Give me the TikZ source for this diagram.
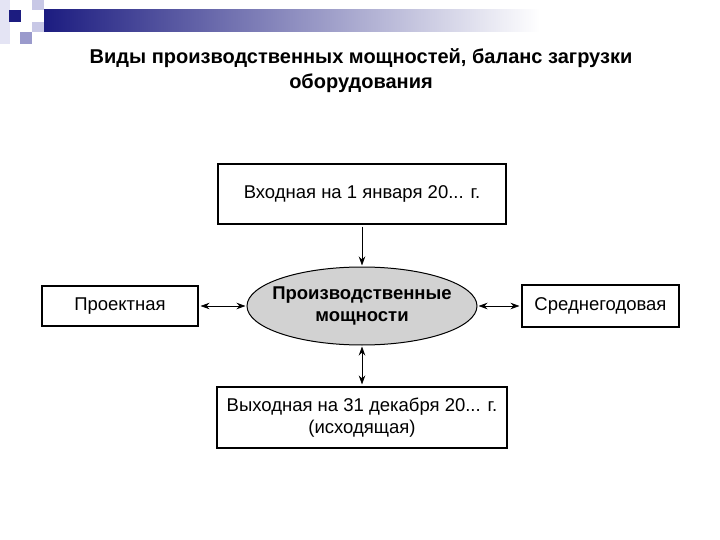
\documentclass[tikz,border=0pt]{standalone}
\usepackage{fontspec}
\setmainfont{Liberation Sans}
\usetikzlibrary{shapes.geometric, arrows.meta}

\definecolor{navy}{HTML}{1C1C80}
\definecolor{pale}{HTML}{E4E4F4}
\definecolor{lilac}{HTML}{C8C8E6}
\definecolor{slate}{HTML}{9A9ACC}

\begin{document}
\begin{tikzpicture}[x = 1pt, y = -1pt, > = {Stealth[length = 9pt, width = 6.5pt]},
    box/.style = {draw = black, line width = 1.1pt, inner sep = 0pt, align = center, font = \fontsize{18.5}{21.5}\selectfont},
    link/.style = {line width = 0.8pt, shorten <= 2pt, shorten >= 1pt}]
    \useasboundingbox (0, 0) rectangle (720, 540);
    \fill [pale] (0, 0) rectangle (10, 44);
    \fill [lilac] (32, 0) rectangle (44, 10);
    \fill [navy] (9, 10) rectangle (21, 22);
    \fill [lilac] (32, 22) rectangle (44, 32);
    \fill [slate] (20, 32) rectangle (32, 44);
    \shade [left color = navy, right color = white] (44, 10) rectangle (540, 32);
    \node [align = center, font = \fontsize{20}{25.5}\selectfont\bfseries] (title) at (361, 70.5)
        {Виды производственных мощностей, баланс загрузки\\оборудования};
    \node [box, minimum width = 288, minimum height = 60] (input) at (362, 194) {Входная на 1 января 20... г.};
    \node [box, minimum width = 156, minimum height = 40] (design) at (120, 306) {Проектная};
    \node [box, minimum width = 157, minimum height = 42] (average) at (600.5, 306) {Среднегодовая};
    \node [box, minimum width = 290, minimum height = 61] (output) at (362, 417.5) {Выходная на 31 декабря 20... г.\\(исходящая)};
    \node [ellipse, draw = black, line width = 1pt, fill = gray!35, inner xsep = -9pt, inner ysep = 0pt, minimum width = 230, minimum height = 78,
        align = center, font = \fontsize{18.5}{22}\selectfont\bfseries] (capacity) at (362, 306) {Производственные\\мощности};
    \draw [link, ->] (input) -- (capacity);
    \draw [link, <->] (design) -- (capacity);
    \draw [link, <->] (average) -- (capacity);
    \draw [link, <->] (output) -- (capacity);
\end{tikzpicture}
\end{document}
